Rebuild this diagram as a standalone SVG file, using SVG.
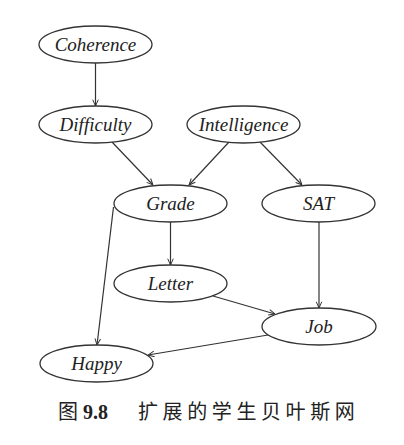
<svg xmlns="http://www.w3.org/2000/svg" width="404" height="445" viewBox="0 0 404 445">
<defs>
<style>
.node ellipse{fill:#fff;stroke:#333;stroke-width:1.3}
.node text{font-family:"Liberation Serif","DejaVu Serif",serif;font-style:italic;font-size:19px;fill:#222;text-anchor:middle}
.edges line{stroke:#333;stroke-width:1.2;marker-end:url(#arr)}
.cap{font-family:"Liberation Serif","Noto Sans CJK SC",serif;font-size:20px;fill:#222}
</style>
<marker id="arr" viewBox="0 0 10 10" refX="10" refY="5" markerWidth="7" markerHeight="7" markerUnits="userSpaceOnUse" orient="auto">
<path d="M1,1 L10,5 L1,9" fill="none" stroke="#333" stroke-width="1.4"/>
</marker>
</defs>
<rect width="404" height="445" fill="#fff"/>
<g class="edges">
<line x1="95.5" y1="63" x2="95.5" y2="106"/>
<line x1="112" y1="142" x2="153" y2="185"/>
<line x1="229" y1="142" x2="189" y2="185"/>
<line x1="260" y1="142" x2="302" y2="185"/>
<line x1="170.5" y1="222" x2="170.5" y2="265"/>
<line x1="113.5" y1="207" x2="97" y2="345"/>
<line x1="319" y1="222" x2="319" y2="308"/>
<line x1="213" y1="296" x2="275" y2="314"/>
<line x1="268" y1="335" x2="148" y2="355"/>
</g>
<g id="coherence" class="node"><ellipse cx="95.5" cy="44.5" rx="56.5" ry="18.5"/><text x="95.5" y="51">Coherence</text></g>
<g id="difficulty" class="node"><ellipse cx="95.5" cy="124.5" rx="56.5" ry="18.5"/><text x="95.5" y="131">Difficulty</text></g>
<g id="intelligence" class="node"><ellipse cx="243.5" cy="124.5" rx="56.5" ry="18.5"/><text x="243.5" y="131">Intelligence</text></g>
<g id="grade" class="node"><ellipse cx="170.5" cy="203.5" rx="56.5" ry="18.5"/><text x="170.5" y="210">Grade</text></g>
<g id="sat" class="node"><ellipse cx="318.5" cy="203.5" rx="56.5" ry="18.5"/><text x="318.5" y="210">SAT</text></g>
<g id="letter" class="node"><ellipse cx="170.5" cy="283.5" rx="56.5" ry="18.5"/><text x="170.5" y="290">Letter</text></g>
<g id="job" class="node"><ellipse cx="319" cy="326.5" rx="57" ry="18.5"/><text x="319" y="333">Job</text></g>
<g id="happy" class="node"><ellipse cx="96.5" cy="363.5" rx="56.5" ry="18.5"/><text x="96.5" y="370">Happy</text></g>
<text class="cap" y="419"><tspan x="58">图</tspan><tspan x="83" font-weight="bold">9.8</tspan><tspan x="138" letter-spacing="4.6">扩展的学生贝叶斯网</tspan></text>
</svg>
